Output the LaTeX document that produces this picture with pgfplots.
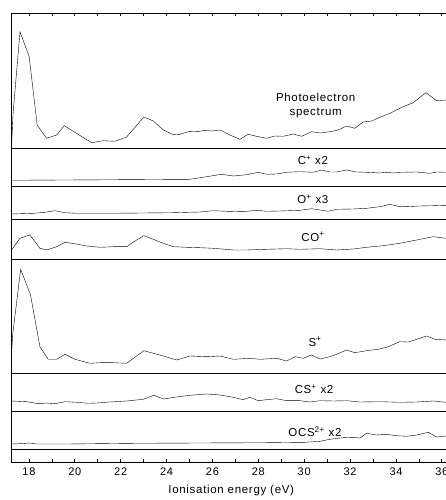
\documentclass[border=0pt]{standalone}
\usepackage{fontspec}
\setmainfont{Liberation Sans}[LetterSpace=6]
\usepackage{graphicx}
\usepackage{pgfplots}
\pgfplotsset{compat=1.18}
\pgfplotsset{
  panel/.style={
    scale only axis, width=439.5bp, xmin=17.24, xmax=36.4, ymin=0,
    anchor=south west, ytick=\empty, xtick=\empty,
    axis line style={line width=0.9bp},
    cycle list={{black, mark=none, line width=0.75bp}},
    clip=false,
    /pgf/number format/assume math mode=true,
    tick style={line width=0.7bp, black},
    major tick length=3bp, minor tick length=3bp,
  },
}
\tikzset{lbl/.style={font=\fontsize{11.5bp}{13.5bp}\selectfont, anchor=center, align=center}}
\begin{document}
\begin{tikzpicture}
\useasboundingbox (0,0) rectangle (446bp,500bp);
% Panel 1: photoelectron spectrum
\begin{axis}[panel, at={(11.5bp,352bp)}, height=135bp, ymax=135,
  xtick={17,...,36}, xticklabels={}, xtick pos=upper]
\addplot coordinates {(17.24,1) (17.31,35) (17.61,116.3) (18.01,91.3) (18.36,23) (18.77,9.7) (19.21,13) (19.54,22.3) (20.73,5.3) (21.24,7.3) (21.75,6.7) (22.26,11) (23.01,31) (23.42,27) (23.86,18) (24.29,13.3) (24.58,13.7) (24.95,16.3) (25.45,16.7) (25.67,17.7) (25.96,17) (26.33,18) (26.76,13) (27.20,8.7) (27.56,13.7) (27.92,11.7) (28.36,9.7) (28.72,12) (29.09,11.7) (29.52,14) (29.89,11.7) (30.32,16.3) (30.69,15) (31.12,16.3) (31.48,18) (31.85,22) (32.21,19.7) (32.57,26) (32.94,27) (33.30,30.7) (33.74,34.7) (34.25,40.7) (34.75,45.3) (35.31,55.3) (35.77,47.3) (36.18,48)};
\node[lbl] at (axis cs:30.5,42.5) {Photoelectron\\spectrum};
\end{axis}
% Panel 2: C+ x2
\begin{axis}[panel, at={(11.5bp,314bp)}, height=38bp, ymax=38]
\addplot coordinates {(17.24,5.7) (25.02,6.7) (25.75,9.3) (26.40,11.7) (26.91,10) (27.49,11.3) (28.00,13.7) (28.36,11.7) (28.80,12) (29.23,13.7) (29.81,14.3) (30.39,13.7) (30.76,16) (31.12,14) (31.41,14) (31.85,16) (32.28,14) (32.72,13.7) (33.30,13) (33.59,13.7) (33.88,13) (34.17,13.7) (34.90,14) (35.48,12.7) (35.77,14) (36.18,13.7)};
\node[lbl] at (axis cs:30.38,26) {C\textsuperscript{+} x2};
\end{axis}
% Panel 3: O+ x3
\begin{axis}[panel, at={(11.5bp,281bp)}, height=33bp, ymax=33]
\addplot coordinates {(17.24,5) (18.19,5.7) (18.70,6.7) (19.13,8.3) (19.57,6.3) (20.08,5.7) (21.53,5.7) (22.98,6) (24.29,6.3) (25.45,7) (26.04,8.3) (26.62,7.7) (27.34,7.3) (27.92,8.7) (28.36,7.7) (28.94,8) (29.81,8.7) (30.32,10.3) (30.69,9) (31.05,7.7) (31.41,9.7) (32.14,10) (32.72,10.7) (33.30,12.3) (33.74,14.7) (34.10,12.7) (34.46,12.3) (35.04,13) (35.63,13.3) (36.18,13.7)};
\node[lbl] at (axis cs:30.38,20) {O\textsuperscript{+} x3};
\end{axis}
% Panel 4: CO+
\begin{axis}[panel, at={(11.5bp,241bp)}, height=40bp, ymax=40]
\addplot coordinates {(17.24,9) (17.61,20.7) (18.04,24) (18.48,10.7) (18.77,9) (19.21,12.3) (19.57,16.7) (20.08,15) (20.51,13) (21.10,11.7) (21.68,12.3) (22.26,12.3) (22.62,18) (23.01,23.3) (23.42,19.7) (23.86,15.7) (24.29,12.3) (24.87,11.7) (25.45,11.3) (26.04,10.7) (26.91,9) (27.49,9) (28.36,9.7) (29.23,10.3) (29.81,9.7) (30.69,10.3) (31.41,9) (32.14,10) (32.72,11.7) (33.44,13.3) (34.17,15.7) (34.90,19) (35.63,22.3) (36.18,20.7)};
\node[lbl] at (axis cs:30.38,22.3) {CO\textsuperscript{+}};
\end{axis}
% Panel 5: S+
\begin{axis}[panel, at={(11.5bp,127bp)}, height=114bp, ymax=114]
\addplot coordinates {(17.24,20) (17.30,40) (17.64,103.7) (18.07,78) (18.48,26.3) (18.84,13.7) (19.21,13.7) (19.57,18.7) (20.01,13.7) (20.66,9.7) (21.10,10.3) (21.68,10.3) (22.26,9.7) (23.01,22.3) (23.42,19.7) (23.86,17) (24.44,13) (25.02,17) (25.75,16.3) (26.33,17) (26.91,13.7) (27.63,14.7) (28.07,13.7) (28.80,14.7) (29.23,12) (29.60,16.3) (29.96,14.7) (30.32,18) (30.69,14) (31.12,16.3) (31.41,18.7) (31.85,23) (32.21,20.3) (32.72,22.3) (33.30,24) (33.66,26.3) (34.17,31.3) (34.53,31) (34.90,33.7) (35.34,37) (35.70,33.7) (36.18,33)};
\node[lbl] at (axis cs:30.47,31.3) {S\textsuperscript{+}};
\end{axis}
% Panel 6: CS+ x2
\begin{axis}[panel, at={(11.5bp,89bp)}, height=38bp, ymax=38]
\addplot coordinates {(17.24,10) (17.90,9.3) (18.41,7.3) (18.77,8) (19.13,7.3) (19.57,9.3) (20.08,8.7) (20.59,7.7) (20.95,8) (21.53,9) (22.26,10) (22.98,11.7) (23.45,15.7) (23.86,12) (24.44,14) (25.02,15.7) (25.75,17) (26.33,16) (26.91,13.7) (27.34,11.3) (27.63,13.7) (28.00,10.3) (28.36,11.3) (28.80,12.3) (29.23,10.3) (29.81,10.3) (30.25,9) (30.69,10.3) (31.27,10) (31.85,10.3) (32.43,9) (33.30,9.3) (34.17,8.7) (34.90,9) (35.63,10) (36.18,8.7)};
\node[lbl] at (axis cs:30.43,22) {CS\textsuperscript{+} x2};
\end{axis}
% Panel 7: OCS2+ x2
\begin{axis}[panel, at={(11.5bp,38bp)}, height=51bp, ymax=51,
  xtick={18,20,...,36}, minor xtick={17,...,36}, xtick pos=lower,
  ticklabel style={font=\fontsize{11bp}{13bp}\selectfont, yshift=-2bp},
  xlabel={Ionisation energy (eV)},
  xlabel style={font=\fontsize{11.5bp}{13.5bp}\selectfont, yshift=-3bp}]
\addplot coordinates {(17.24,18) (17.61,18.3) (18.04,19) (18.33,18) (19.64,18) (22.55,18.7) (25.45,19) (28.36,19.3) (30.03,19.7) (30.69,20.7) (31.12,22.7) (31.70,24.3) (32.14,24.7) (32.43,24) (32.72,28.7) (33.16,27) (33.59,27.7) (34.03,26.3) (34.46,25.7) (34.90,27) (35.41,29.7) (35.77,25) (36.18,26)};
\addplot coordinates {(17.24,13) (36.4,13)};
\node[lbl] at (axis cs:30.47,30) {OCS\textsuperscript{2+} x2};
\end{axis}
\end{tikzpicture}
\end{document}
